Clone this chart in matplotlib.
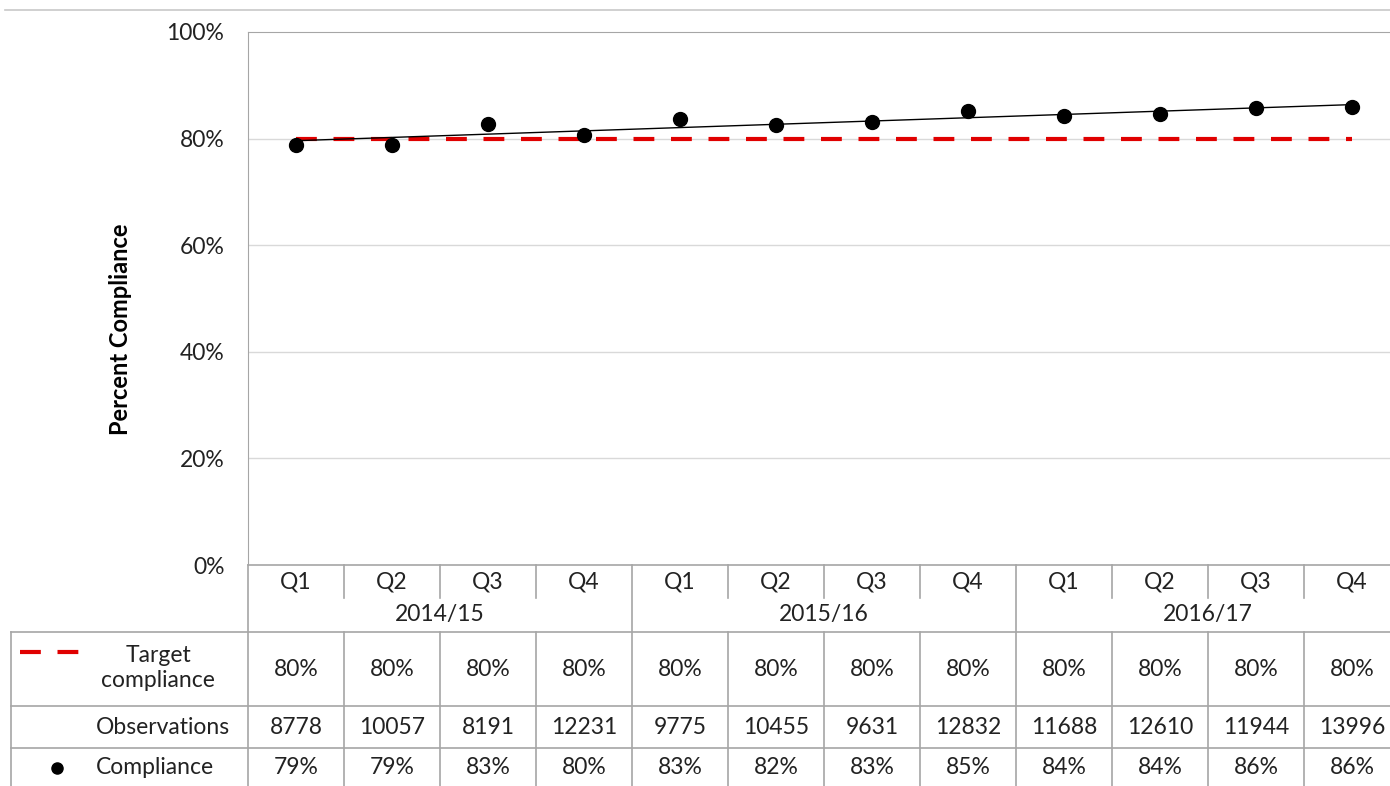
import numpy as np
import matplotlib
matplotlib.use("Agg")
import matplotlib.pyplot as plt
from matplotlib.transforms import blended_transform_factory
from matplotlib.lines import Line2D

plt.rcParams['font.family'] = ['Lato', 'DejaVu Sans']

# ---------------- data ----------------
quarters = ["Q1", "Q2", "Q3", "Q4"] * 3
years = ["2014/15", "2015/16", "2016/17"]
target = [80] * 12
observations = [8778, 10057, 8191, 12231, 9775, 10455, 9631, 12832,
                11688, 12610, 11944, 13996]
compliance = [78.8, 78.8, 82.7, 80.7, 83.7, 82.5, 83.1, 85.2,
              84.2, 84.6, 85.7, 85.9]
compliance_lbl = ["79%", "79%", "83%", "80%", "83%", "82%", "83%", "85%",
                  "84%", "84%", "86%", "86%"]

W, H = 1390, 786
fig = plt.figure(figsize=(W / 100, H / 100), dpi=100)

def fx(p):
    return p / W

def fy(p):
    return 1 - p / H

# plot area in pixels
x0, x1 = 248, 1400
y_top, y_bot = 32, 565
ax = fig.add_axes([fx(x0), fy(y_bot), fx(x1 - x0), (y_bot - y_top) / H])

n = len(compliance)
x = np.arange(n)
comp = np.array(compliance) / 100.0
tgt = np.array(target) / 100.0

grid_c = "#d9d9d9"
line_c = "#a6a6a6"
red = "#e00000"
txt_c = "#222222"
fs = 16.5

for v in [0.2, 0.4, 0.6, 0.8]:
    ax.axhline(v, color=grid_c, lw=1, zorder=0)

ax.plot(x, tgt, color=red, lw=3, dashes=(5, 4), zorder=2)
# linear trend of compliance
k, b = np.polyfit(x, comp, 1)
ax.plot(x, k * x + b, color="black", lw=1, zorder=3)
ax.plot(x, comp, "o", color="black", ms=10, zorder=4)

ax.set_xlim(-0.5, n - 0.5)
ax.set_ylim(0, 1)
yt = np.arange(0, 1.01, 0.2)
ax.set_yticks(yt)
ax.set_yticklabels(["{:d}%".format(int(round(v * 100))) for v in yt])
ax.set_xticks([])
ax.tick_params(axis="y", length=0, labelsize=fs, colors=txt_c, pad=17)
for s in ["right", "bottom"]:
    ax.spines[s].set_visible(False)
ax.spines["left"].set_color(line_c)
ax.spines["top"].set_color(line_c)
ax.set_ylabel("Percent Compliance", fontsize=17, fontweight="bold",
              color="black")
ax.yaxis.set_label_coords(-0.101, 0.443)

# ---------------- data table ----------------
tr = blended_transform_factory(ax.transData, fig.transFigure)

def hline(p, xa, xb, c=line_c):
    fig.add_artist(Line2D([fx(xa), fx(xb)], [fy(p), fy(p)], color=c, lw=1.2))

def vline_data(xd, pa, pb):
    fig.add_artist(Line2D([xd, xd], [fy(pa), fy(pb)], color=line_c, lw=1.2,
                          transform=tr))

# outer border on top of the chart
hline(10, 5, W, c="#c8c8c8")
# axis line at 0%
hline(y_bot, x0, W)
# row lines
for p in [632, 706, 748]:
    hline(p, 11, W)
fig.add_artist(Line2D([fx(11), fx(11)], [fy(632), fy(H)], color=line_c, lw=1.2))

for i in range(n + 1):
    xb = i - 0.5
    if i % 4 == 0:
        vline_data(xb, y_bot, H)
    else:
        vline_data(xb, y_bot, 598)
        vline_data(xb, 632, H)

for i in range(n):
    ax.text(i, fy(582), quarters[i], transform=tr, ha="center", va="center",
            fontsize=fs, color=txt_c)
    ax.text(i, fy(669), "{:d}%".format(target[i]), transform=tr, ha="center",
            va="center", fontsize=fs, color=txt_c)
    ax.text(i, fy(727), str(observations[i]), transform=tr, ha="center",
            va="center", fontsize=fs, color=txt_c)
    ax.text(i, fy(768), compliance_lbl[i], transform=tr, ha="center",
            va="center", fontsize=fs, color=txt_c)

for j, yr in enumerate(years):
    ax.text(4 * j + 1.5, fy(615), yr, transform=tr, ha="center", va="center",
            fontsize=fs, color=txt_c)

# row headers with legend keys
fig.add_artist(Line2D([fx(20), fx(88)], [fy(652), fy(652)], color=red, lw=3,
                      dashes=(5, 4)))
fig.add_artist(Line2D([fx(57)], [fy(768)], marker="o", color="black", ms=8,
                      lw=0))
fig.text(fx(158), fy(668), "Target\ncompliance", ha="center", va="center",
         fontsize=fs, color=txt_c, linespacing=1.25)
fig.text(fx(96), fy(727), "Observations", ha="left", va="center",
         fontsize=fs, color=txt_c)
fig.text(fx(96), fy(768), "Compliance", ha="left", va="center",
         fontsize=fs, color=txt_c)

fig.savefig("out.png", dpi=100)
